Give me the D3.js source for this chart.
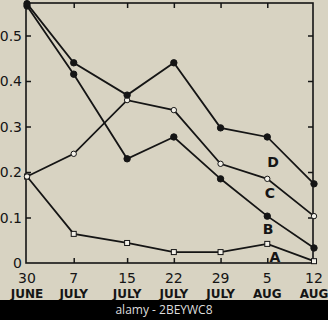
<!DOCTYPE html>
<html>
<head>
<meta charset="utf-8">
<script src="https://cdn.jsdelivr.net/npm/d3@7"></script>
<style>
  body { margin: 0; background: #d8d3c2; overflow: hidden; }
  svg { display: block; }
  .tick-label { font-family: "DejaVu Sans", sans-serif; font-size: 14px; fill: #151515; }
  .month-label { font-family: "DejaVu Sans", sans-serif; font-size: 12px; font-weight: bold; fill: #151515; }
  .series-label { font-family: "DejaVu Sans", sans-serif; font-size: 14px; font-weight: bold; fill: #151515; }
</style>
</head>
<body>
<script>
var width = 328, height = 320;

// sampling dates, as days after 30 June
var days = [0, 7, 15, 22, 29, 36, 43];
var dayLabels = ["30", "7", "15", "22", "29", "5", "12"];
var monthLabels = ["JUNE", "JULY", "JULY", "JULY", "JULY", "AUG", "AUG"];
var yTicks = [0, 0.1, 0.2, 0.3, 0.4, 0.5, 0.6];
var yTickLabels = ["0", "0.1", "0.2", "0.3", "0.4", "0.5", "0.6"];

var seriesA = [0.19, 0.064, 0.044, 0.024, 0.024, 0.042, 0.004];
var seriesB = [0.565, 0.415, 0.229, 0.277, 0.185, 0.103, 0.033];
var seriesC = [0.19, 0.24, 0.358, 0.336, 0.218, 0.185, 0.103];
var seriesD = [0.57, 0.44, 0.369, 0.44, 0.297, 0.277, 0.174];

var series = [
    {name: "A", values: seriesA, marker: "square", lx: 275, ly: 257},
    {name: "B", values: seriesB, marker: "filled", lx: 268, ly: 229},
    {name: "C", values: seriesC, marker: "open", lx: 270, ly: 193},
    {name: "D", values: seriesD, marker: "filled", lx: 273, ly: 162}
];

var plot = {left: 26, right: 313, top: 3, bottom: 263};

var x = d3.scaleLinear().domain([0, 43]).range([27, 314]);
var y = d3.scaleLinear().domain([0, 0.6]).range([263, -10]);

var svg = d3.select("body").append("svg")
    .attr("width", width)
    .attr("height", height);

svg.append("rect").attr("width", width).attr("height", height).attr("fill", "#d8d3c2");

// frame
svg.append("rect")
    .attr("x", plot.left).attr("y", plot.top)
    .attr("width", plot.right - plot.left).attr("height", plot.bottom - plot.top)
    .attr("fill", "none").attr("stroke", "#151515").attr("stroke-width", 1.6);

// inward ticks on all four sides
var axisLeft = d3.axisLeft(y).tickValues(yTicks.slice(1, 6)).tickSize(-5).tickFormat("");
var axisRight = d3.axisRight(y).tickValues(yTicks.slice(1, 6)).tickSize(-5).tickFormat("");
var axisTop = d3.axisTop(x).tickValues(days.slice(1, 6)).tickSize(-5).tickFormat("");
var axisBottom = d3.axisBottom(x).tickValues(days.slice(1, 6)).tickSize(-5).tickFormat("");

[[axisLeft, "translate(" + plot.left + ",0)"],
 [axisRight, "translate(" + plot.right + ",0)"],
 [axisTop, "translate(0," + plot.top + ")"],
 [axisBottom, "translate(0," + plot.bottom + ")"]].forEach(function (a) {
    var g = svg.append("g").attr("transform", a[1]).call(a[0]);
    g.select(".domain").remove();
    g.selectAll("line").attr("stroke", "#151515").attr("stroke-width", 1.5);
});

// y labels (0.6 sits above the frame and is cut by the top edge, as in the original)
svg.append("g").selectAll("text")
    .data(yTicks)
    .enter().append("text")
    .attr("class", "tick-label")
    .attr("x", 22)
    .attr("y", function (d) { return y(d); })
    .attr("dy", "0.36em")
    .attr("text-anchor", "end")
    .text(function (d, i) { return yTickLabels[i]; });

// x labels
var xl = svg.append("g").selectAll("g")
    .data(days)
    .enter().append("g")
    .attr("transform", function (d) { return "translate(" + x(d) + ",0)"; });
xl.append("text")
    .attr("class", "tick-label")
    .attr("y", 278)
    .attr("dy", "0.36em")
    .attr("text-anchor", "middle")
    .text(function (d, i) { return dayLabels[i]; });
xl.append("text")
    .attr("class", "month-label")
    .attr("y", 294)
    .attr("dy", "0.36em")
    .attr("text-anchor", "middle")
    .text(function (d, i) { return monthLabels[i]; });

var line = d3.line()
    .x(function (d, i) { return x(days[i]); })
    .y(function (d) { return y(d); });

series.forEach(function (s) {
    var g = svg.append("g");
    g.append("path")
        .attr("d", line(s.values))
        .attr("fill", "none")
        .attr("stroke", "#151515")
        .attr("stroke-width", 1.8);
    if (s.marker === "square") {
        g.selectAll("rect").data(s.values).enter().append("rect")
            .attr("x", function (d, i) { return x(days[i]) - 2.5; })
            .attr("y", function (d) { return y(d) - 2.5; })
            .attr("width", 5).attr("height", 5)
            .attr("fill", "#f2f0e8").attr("stroke", "#151515").attr("stroke-width", 1);
    } else {
        g.selectAll("circle").data(s.values).enter().append("circle")
            .attr("cx", function (d, i) { return x(days[i]); })
            .attr("cy", function (d) { return y(d); })
            .attr("r", s.marker === "filled" ? 3.2 : 2.7)
            .attr("fill", s.marker === "filled" ? "#151515" : "#f2f0e8")
            .attr("stroke", "#151515").attr("stroke-width", 1);
    }
    g.append("text")
        .attr("class", "series-label")
        .attr("x", s.lx).attr("y", s.ly)
        .attr("dy", "0.36em")
        .attr("text-anchor", "middle")
        .text(s.name);
});

// watermark band
svg.append("rect").attr("x", 0).attr("y", 300).attr("width", width).attr("height", 20).attr("fill", "#000");
svg.append("text")
    .attr("x", width / 2).attr("y", 310).attr("dy", "0.36em")
    .attr("text-anchor", "middle")
    .attr("font-family", "'Open Sans', sans-serif")
    .attr("font-size", 12)
    .attr("fill", "#ddd")
    .text("alamy - 2BEYWC8");
</script>
</body>
</html>
